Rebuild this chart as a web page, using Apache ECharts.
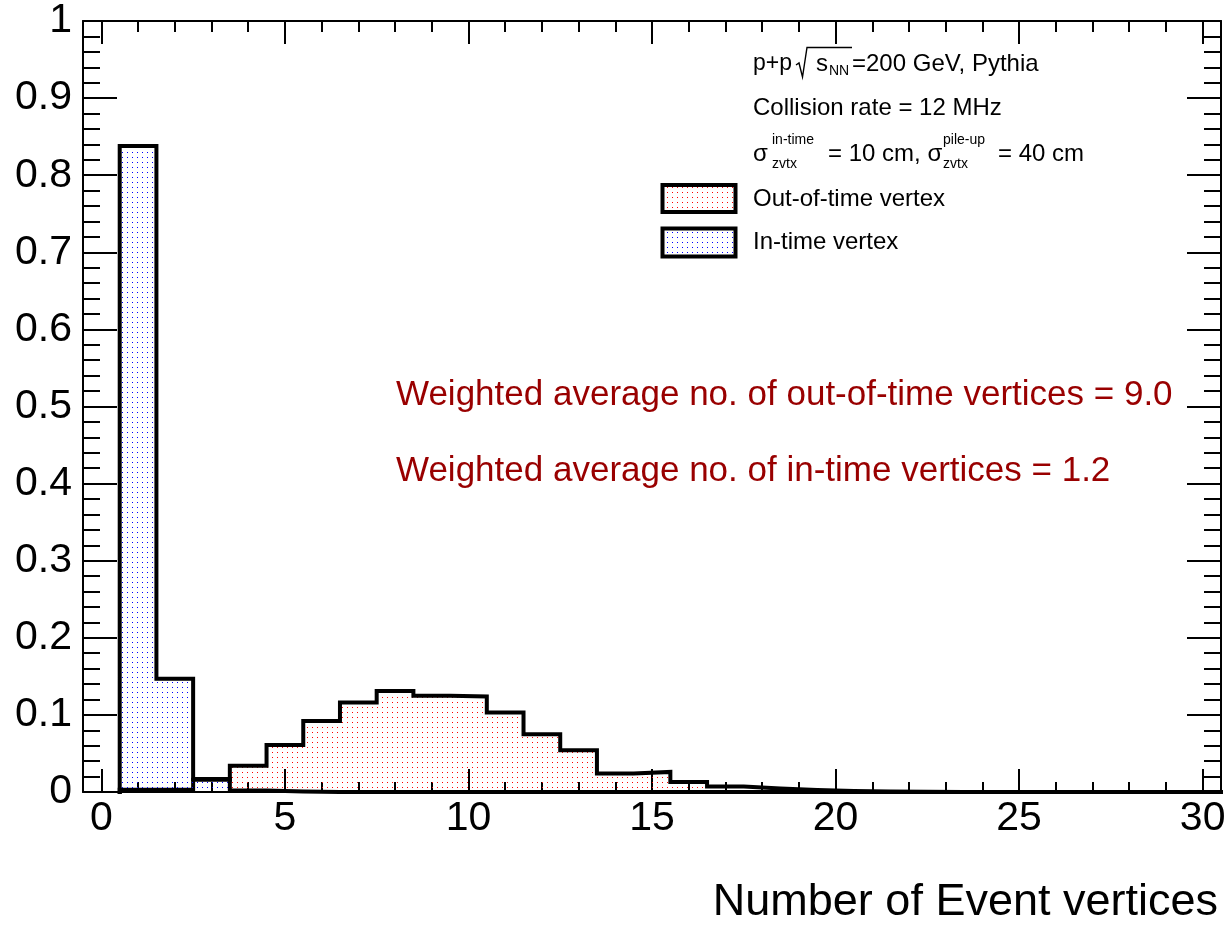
<!DOCTYPE html>
<html>
<head>
<meta charset="utf-8">
<script src="https://cdn.jsdelivr.net/npm/echarts@6/dist/echarts.min.js"></script>
<style>html,body{margin:0;padding:0;background:#fff}#c{width:1232px;height:925px}</style>
</head>
<body>
<div id="c"></div>
<script>
// ---- data ----
const binCenters = [1,2,3,4,5,6,7,8,9,10,11,12,13,14,15,16,17,18,19,20,21,22,23,24,25,26,27,28,29,30];
const outOfTime = [0.003,0.003,0.016,0.034,0.061,0.092,0.116,0.131,0.125,0.124,0.103,0.075,0.054,0.024,0.026,0.013,0.007,0.0045,0.0026,0.0013,0.0006,0.0003,0.0001,0,0,0,0,0,0,0];
const inTime = [0.838,0.147,0.017,0.002,0.0005,0,0,0,0,0,0,0,0,0,0,0,0,0,0,0,0,0,0,0,0,0,0,0,0,0];
const xMajorTicks = [0,5,10,15,20,25,30];
const xMinorTicks = [0,1,2,3,4,5,6,7,8,9,10,11,12,13,14,15,16,17,18,19,20,21,22,23,24,25,26,27,28,29,30];
const seriesNames = ['Out-of-time vertex','In-time vertex'];
const xTitle = 'Number of Event vertices';
const avgLines = ['Weighted average no. of out-of-time vertices = 9.0','Weighted average no. of in-time vertices = 1.2'];

const FONT = '"Liberation Sans", Arial, Helvetica, sans-serif';

function dotPattern(color){
  const c = document.createElement('canvas');
  c.width = 5; c.height = 5;
  const ctx = c.getContext('2d');
  ctx.fillStyle = color;
  ctx.fillRect(2,2,1,1);
  return {image: c, repeat: 'repeat'};
}
const redPat = dotPattern('#ff0000');
const bluePat = dotPattern('#0000ff');

function stepData(vals){
  const d = [[binCenters[0]-0.5, 0]];
  vals.forEach((v,i)=>{ d.push([binCenters[i]-0.5, v]); d.push([binCenters[i]+0.5, v]); });
  d.push([binCenters[binCenters.length-1]+0.5, 0]);
  return d;
}

const grid = {left:83, right:11, top:21, bottom:132};
const lineSt = {color:'#000', width:2};

function txt(x, y, text, size, fill){
  return {type:'text', x:x, y:y, silent:true, z:10,
    style:{text:text, fontSize:size, fontFamily:FONT, fill:fill||'#000', align:'left', verticalAlign:'middle'}};
}

const chart = echarts.init(document.getElementById('c'), null, {renderer:'canvas'});
chart.setOption({
  animation:false,
  backgroundColor:'#fff',
  grid:[Object.assign({}, grid), Object.assign({}, grid)],
  xAxis:[
    {gridIndex:0, type:'value', position:'bottom', min:-0.5, max:30.5,
     axisLine:{show:true, onZero:false, lineStyle:lineSt},
     axisTick:{show:true, inside:true, length:23, customValues:xMajorTicks, lineStyle:lineSt},
     axisLabel:{show:true, customValues:xMajorTicks, fontSize:41, fontFamily:FONT, color:'#000', margin:6},
     splitLine:{show:false},
     name:xTitle, nameLocation:'end', nameGap:-3,
     nameTextStyle:{fontSize:45, fontFamily:FONT, color:'#000', align:'right', verticalAlign:'top', padding:[88,0,0,0]}},
    {gridIndex:0, type:'value', position:'top', min:-0.5, max:30.5,
     axisLine:{show:true, onZero:false, lineStyle:lineSt},
     axisTick:{show:true, inside:true, length:23, customValues:xMajorTicks, lineStyle:lineSt},
     axisLabel:{show:false}, splitLine:{show:false}},
    {gridIndex:1, type:'value', position:'bottom', min:-0.5, max:30.5,
     axisLine:{show:false, onZero:false},
     axisTick:{show:true, inside:true, length:11, customValues:xMinorTicks, lineStyle:lineSt},
     axisLabel:{show:false}, splitLine:{show:false}},
    {gridIndex:1, type:'value', position:'top', min:-0.5, max:30.5,
     axisLine:{show:false, onZero:false},
     axisTick:{show:true, inside:true, length:11, customValues:xMinorTicks, lineStyle:lineSt},
     axisLabel:{show:false}, splitLine:{show:false}}
  ],
  yAxis:[
    {gridIndex:0, type:'value', position:'left', min:0, max:1, interval:0.1,
     axisLine:{show:true, onZero:false, lineStyle:lineSt},
     axisTick:{show:true, inside:true, length:34, lineStyle:lineSt},
     minorTick:{show:true, splitNumber:5, length:17, lineStyle:lineSt},
     axisLabel:{show:true, fontSize:41, fontFamily:FONT, color:'#000', margin:11},
     splitLine:{show:false}, minorSplitLine:{show:false}},
    {gridIndex:0, type:'value', position:'right', min:0, max:1, interval:0.1,
     axisLine:{show:true, onZero:false, lineStyle:lineSt},
     axisTick:{show:true, inside:true, length:34, lineStyle:lineSt},
     minorTick:{show:true, splitNumber:5, length:17, lineStyle:lineSt},
     axisLabel:{show:false},
     splitLine:{show:false}, minorSplitLine:{show:false}},
    {gridIndex:1, type:'value', min:0, max:1, show:false}
  ],
  series:[
    {name:seriesNames[0], type:'line', xAxisIndex:0, yAxisIndex:0, data:stepData(outOfTime),
     symbol:'none', showSymbol:false, clip:false, silent:true, z:3,
     itemStyle:{color:'#000'},
     lineStyle:{color:'#000', width:4, join:'miter', cap:'square'},
     areaStyle:{color:redPat, opacity:1}},
    {name:seriesNames[1], type:'line', xAxisIndex:0, yAxisIndex:0, data:stepData(inTime),
     symbol:'none', showSymbol:false, clip:false, silent:true, z:4,
     itemStyle:{color:'#000'},
     lineStyle:{color:'#000', width:4, join:'miter', cap:'square'},
     areaStyle:{color:bluePat, opacity:1}}
  ],
  graphic:[
    // header text block
    txt(753, 64, 'p+p', 23),
    {type:'polyline', silent:true, z:10,
     shape:{points:[[796,65],[799,63],[802.5,77],[807,47.5],[852,47.5]]},
     style:{stroke:'#000', lineWidth:1.4, fill:null}},
    txt(816, 64, 's', 24),
    txt(829, 71.5, 'NN', 14),
    txt(852, 64, '=200 GeV, Pythia', 24),
    txt(753, 108, 'Collision rate = 12 MHz', 24),
    txt(753, 154, '\u03C3', 24),
    txt(772, 140, 'in-time', 14),
    txt(772, 164, 'zvtx', 14),
    txt(828, 154, '= 10 cm, \u03C3', 24),
    txt(943, 140, 'pile-up', 14),
    txt(943, 164, 'zvtx', 14),
    txt(998, 154, '= 40 cm', 24),
    // legend
    {type:'rect', silent:true, z:10, shape:{x:662.5, y:185, width:73, height:27}, style:{fill:redPat, stroke:'#000', lineWidth:4}},
    txt(753, 199, seriesNames[0], 24),
    {type:'rect', silent:true, z:10, shape:{x:662.5, y:228.5, width:73, height:28}, style:{fill:bluePat, stroke:'#000', lineWidth:4}},
    txt(753, 242, seriesNames[1], 24),
    // weighted averages
    txt(396, 395, avgLines[0], 35, '#990000'),
    txt(396, 471, avgLines[1], 35, '#990000')
  ]
});
</script>
</body>
</html>
